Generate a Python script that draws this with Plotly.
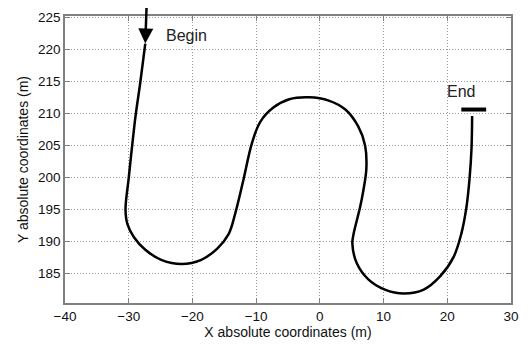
import plotly.graph_objects as go

# Trajectory (m)
traj_x = [-27.4, -28.2, -28.9, -29.5, -30.0, -30.5, -30.2, -29.2, -27.4, -24.8, -21.7,
          -18.7, -16.1, -14.3, -13.3, -12.0, -10.7, -9.4, -7.3, -4.8, -1.7, 1.4, 4.0,
          6.0, 7.1, 7.3, 6.8, 6.3, 5.3, 5.1, 5.8, 7.6, 10.2, 13.2, 16.3, 18.9, 21.0,
          22.2, 23.0, 23.5, 23.8, 23.9]
traj_y = [220.9, 214.7, 209.8, 204.6, 199.9, 195.0, 192.7, 190.7, 188.7, 187.1, 186.5,
          187.1, 188.9, 191.2, 194.3, 199.6, 205.2, 208.6, 210.9, 212.2, 212.5, 212.0, 210.6,
          208.0, 205.0, 201.4, 197.8, 195.3, 191.2, 189.7, 186.6, 184.1, 182.5, 181.9, 182.5, 184.6, 187.6,
          191.2, 195.3, 199.9, 204.5, 209.6]

end_bar_x = [22.2, 26.1]
end_bar_y = [210.6, 210.6]

x_ticks = [-40, -30, -20, -10, 0, 10, 20, 30]
y_ticks = [185, 190, 195, 200, 205, 210, 215, 220, 225]

FONT = "Liberation Sans, Arial"

fig = go.Figure()
fig.add_trace(go.Scatter(x=traj_x, y=traj_y, mode="lines",
                         line=dict(color="black", width=2.5, shape="spline", smoothing=1.0),
                         showlegend=False, hoverinfo="skip"))
fig.add_trace(go.Scatter(x=end_bar_x, y=end_bar_y, mode="lines",
                         line=dict(color="black", width=4), showlegend=False,
                         hoverinfo="skip", cliponaxis=False))

fig.add_annotation(x=traj_x[0], y=traj_y[0], ax=1.3, ay=-37, axref="pixel", ayref="pixel",
                   showarrow=True, arrowhead=2, arrowsize=1.2, arrowwidth=2.5, arrowcolor="black",
                   text="")
fig.add_annotation(x=-24.4, y=222.1, text="Begin", showarrow=False, xanchor="left",
                   font=dict(family=FONT, size=16, color="#222"))
fig.add_annotation(x=22.2, y=213.4, text="End", showarrow=False, xanchor="center",
                   font=dict(family=FONT, size=16, color="#222"))

axis_common = dict(showline=True, linecolor="#808080", linewidth=1.5, mirror="ticks",
                   ticks="inside", ticklen=5, tickcolor="#808080", tickwidth=1.2,
                   showgrid=True, gridcolor="#999", griddash="1px,2px", gridwidth=1,
                   zeroline=False,
                   tickfont=dict(family=FONT, size=13.5, color="#111"))

fig.update_xaxes(range=[-40, 30], tickvals=x_ticks,
                 title=dict(text="X absolute coordinates (m)", standoff=4,
                            font=dict(family=FONT, size=14, color="#111")),
                 **axis_common)
fig.update_yaxes(range=[180.4, 225.2], tickvals=y_ticks,
                 title=dict(text="Y absolute coordinates (m)", standoff=6,
                            font=dict(family=FONT, size=14, color="#111")),
                 **axis_common)

fig.update_layout(width=528, height=347, margin=dict(l=65, r=9, t=16, b=40),
                  plot_bgcolor="white", paper_bgcolor="white")

fig.write_html("out.html")
